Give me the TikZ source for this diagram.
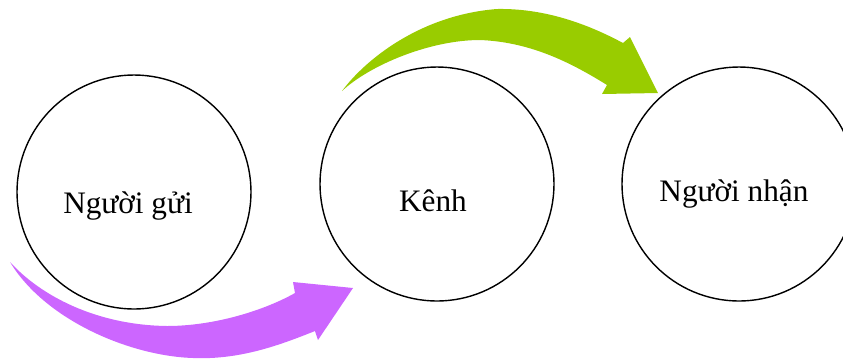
\documentclass[tikz,border=0pt]{standalone}
\usepackage{fontspec}
\setmainfont{Liberation Serif}

\begin{document}
\begin{tikzpicture}[x=0.02cm, y=-0.02cm,
    party/.style ={circle, draw, line width=0.8pt, minimum size=4.68cm, inner sep=0pt},
    partytext/.style ={anchor=base, inner sep=0pt, font=\fontsize{17.8}{20}\selectfont}]
   \useasboundingbox (0,0) rectangle (843,363);

   % the two curved block arrows
   \fill[fill={rgb,255:red,204;green,102;blue,255}] (10,262) .. controls (40,295) and (95,325) .. (167,326)
      .. controls (215,326) and (265,310) .. (295,293) -- (293,282) -- (353,288) -- (318,340) -- (315,331)
      .. controls (280,345) and (240,360) .. (193,358) .. controls (130,356) and (45,320) .. (10,262) -- cycle;
   \fill[fill={rgb,255:red,153;green,204;blue,0}] (342,91) .. controls (365,60) and (420,15) .. (497,9)
      .. controls (550,8) and (595,28) .. (623,43) -- (630,37) -- (658,93) -- (602,94) -- (607,85)
      .. controls (570,62) and (530,42) .. (480,40) .. controls (430,40) and (370,65) .. (342,91) -- cycle;

   \node[party] (sender) at (134,192)  {};
   \node[party] (channel) at (437,184)  {};
   \node[party] (receiver) at (739,184)  {};

   \node[partytext] (sendertext) at (128,213) {Người gửi};
   \node[partytext] (channeltext) at (433,211) {Kênh};
   \node[partytext] (receivertext) at (734,201) {Người nhận};
 \end{tikzpicture}
\end{document}
